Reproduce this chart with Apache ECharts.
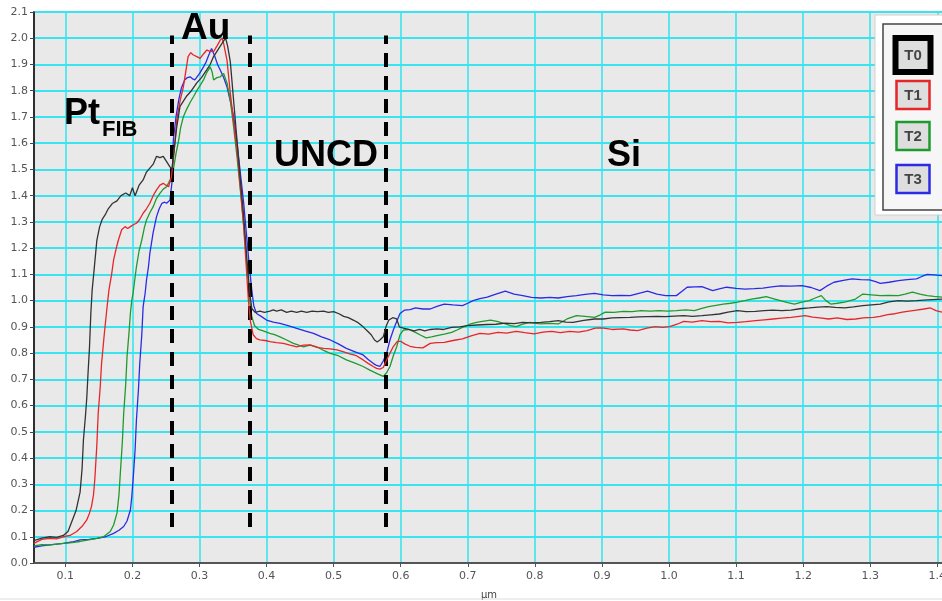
<!DOCTYPE html>
<html>
<head>
<meta charset="utf-8">
<script src="https://cdn.jsdelivr.net/npm/echarts@6/dist/echarts.min.js"></script>
<style>
html,body{margin:0;padding:0;background:#fff;}
#chart{width:942px;height:601px;}
</style>
</head>
<body>
<div id="chart"></div>
<script>
// ---- data ----
const xTicks = [0.1,0.2,0.3,0.4,0.5,0.6,0.7,0.8,0.9,1.0,1.1,1.2,1.3,1.4];
const seriesNames = ['T0','T1','T2','T3'];
const boundaries = [0.259, 0.375, 0.578];
const boundaryRange = [0.137, 2.01];
const regionLabels = ['Pt', 'Au', 'UNCD', 'Si'];

const t0 = [[0.053,0.085],[0.065,0.095],[0.077,0.10],[0.087,0.098],[0.097,0.105],[0.104,0.12],[0.11,0.16],[0.116,0.2],[0.122,0.27],[0.125,0.36],[0.127,0.47],[0.13,0.56],[0.132,0.63],[0.134,0.73],[0.136,0.82],[0.138,0.95],[0.14,1.04],[0.143,1.12],[0.147,1.23],[0.151,1.28],[0.155,1.31],[0.16,1.33],[0.164,1.35],[0.17,1.37],[0.177,1.38],[0.183,1.40],[0.19,1.41],[0.196,1.40],[0.2,1.43],[0.204,1.40],[0.21,1.44],[0.216,1.46],[0.221,1.49],[0.226,1.505],[0.231,1.52],[0.236,1.55],[0.241,1.545],[0.246,1.55],[0.251,1.53],[0.256,1.51],[0.259,1.5],[0.262,1.57],[0.266,1.66],[0.271,1.74],[0.276,1.76],[0.281,1.78],[0.288,1.80],[0.296,1.83],[0.303,1.85],[0.311,1.88],[0.316,1.90],[0.321,1.93],[0.326,1.95],[0.331,1.97],[0.336,1.99],[0.339,2.0],[0.342,1.97],[0.346,1.91],[0.351,1.76],[0.356,1.61],[0.361,1.46],[0.366,1.32],[0.371,1.15],[0.375,1.03],[0.378,0.97],[0.383,0.955],[0.39,0.96],[0.397,0.955],[0.405,0.96],[0.41,0.965],[0.415,0.96],[0.422,0.965],[0.43,0.955],[0.437,0.96],[0.445,0.955],[0.452,0.96],[0.46,0.955],[0.468,0.96],[0.476,0.958],[0.485,0.96],[0.492,0.955],[0.5,0.958],[0.508,0.95],[0.515,0.94],[0.522,0.935],[0.53,0.925],[0.537,0.915],[0.544,0.90],[0.55,0.885],[0.556,0.87],[0.561,0.85],[0.565,0.842],[0.569,0.85],[0.574,0.862],[0.578,0.9],[0.582,0.925],[0.588,0.935],[0.594,0.93],[0.598,0.90],[0.604,0.895],[0.612,0.89],[0.62,0.885],[0.628,0.89],[0.636,0.885],[0.644,0.89],[0.654,0.892],[0.664,0.89],[0.676,0.898],[0.688,0.9],[0.7,0.905],[0.714,0.907],[0.729,0.909],[0.742,0.91],[0.756,0.914],[0.769,0.912],[0.782,0.917],[0.795,0.915],[0.809,0.917],[0.822,0.92],[0.835,0.924],[0.846,0.918],[0.857,0.917],[0.873,0.925],[0.889,0.93],[0.902,0.93],[0.915,0.934],[0.928,0.935],[0.942,0.936],[0.955,0.938],[0.968,0.939],[0.982,0.94],[0.995,0.939],[1.008,0.941],[1.022,0.943],[1.035,0.94],[1.049,0.943],[1.062,0.946],[1.075,0.949],[1.088,0.956],[1.102,0.962],[1.115,0.958],[1.129,0.959],[1.142,0.962],[1.155,0.964],[1.168,0.962],[1.182,0.964],[1.195,0.969],[1.209,0.972],[1.222,0.975],[1.235,0.977],[1.248,0.974],[1.262,0.972],[1.275,0.976],[1.289,0.981],[1.302,0.984],[1.315,0.987],[1.328,0.995],[1.342,1.0],[1.355,0.998],[1.369,1.0],[1.385,1.003],[1.407,1.006]];

const t1 = [[0.053,0.075],[0.065,0.09],[0.077,0.094],[0.087,0.092],[0.097,0.1],[0.107,0.105],[0.117,0.12],[0.125,0.14],[0.132,0.164],[0.136,0.19],[0.139,0.215],[0.142,0.26],[0.144,0.32],[0.147,0.45],[0.149,0.57],[0.152,0.67],[0.154,0.76],[0.158,0.87],[0.162,0.97],[0.165,1.04],[0.169,1.1],[0.172,1.155],[0.176,1.2],[0.179,1.23],[0.184,1.27],[0.189,1.282],[0.193,1.275],[0.197,1.282],[0.202,1.29],[0.206,1.295],[0.211,1.31],[0.216,1.333],[0.221,1.35],[0.226,1.371],[0.231,1.40],[0.236,1.422],[0.241,1.44],[0.246,1.447],[0.25,1.44],[0.254,1.434],[0.258,1.47],[0.261,1.536],[0.264,1.62],[0.266,1.688],[0.271,1.76],[0.276,1.815],[0.28,1.88],[0.283,1.93],[0.287,1.945],[0.291,1.936],[0.296,1.93],[0.301,1.923],[0.306,1.94],[0.311,1.955],[0.316,1.95],[0.321,1.949],[0.326,1.97],[0.331,1.993],[0.334,2.0],[0.336,1.98],[0.341,1.917],[0.346,1.79],[0.351,1.68],[0.356,1.574],[0.361,1.43],[0.366,1.282],[0.37,1.12],[0.373,1.0],[0.376,0.92],[0.38,0.87],[0.385,0.855],[0.39,0.85],[0.398,0.848],[0.405,0.844],[0.415,0.84],[0.425,0.837],[0.435,0.83],[0.445,0.824],[0.455,0.83],[0.465,0.831],[0.475,0.822],[0.485,0.818],[0.495,0.816],[0.505,0.812],[0.515,0.805],[0.524,0.797],[0.534,0.79],[0.544,0.774],[0.552,0.76],[0.559,0.749],[0.564,0.742],[0.569,0.739],[0.574,0.745],[0.579,0.774],[0.584,0.80],[0.589,0.825],[0.595,0.845],[0.6,0.845],[0.606,0.835],[0.614,0.826],[0.622,0.822],[0.633,0.82],[0.644,0.837],[0.654,0.84],[0.665,0.841],[0.678,0.848],[0.692,0.854],[0.705,0.866],[0.718,0.875],[0.731,0.872],[0.745,0.879],[0.758,0.876],[0.772,0.883],[0.785,0.878],[0.799,0.873],[0.812,0.88],[0.825,0.883],[0.838,0.878],[0.852,0.883],[0.865,0.88],[0.878,0.886],[0.89,0.895],[0.9,0.896],[0.915,0.89],[0.932,0.892],[0.942,0.888],[0.953,0.886],[0.967,0.895],[0.98,0.901],[0.99,0.898],[1.001,0.901],[1.012,0.91],[1.022,0.921],[1.035,0.918],[1.049,0.924],[1.062,0.92],[1.075,0.921],[1.088,0.915],[1.102,0.917],[1.115,0.92],[1.129,0.924],[1.142,0.927],[1.155,0.93],[1.168,0.933],[1.182,0.936],[1.203,0.943],[1.214,0.937],[1.225,0.934],[1.238,0.93],[1.251,0.934],[1.265,0.928],[1.278,0.93],[1.29,0.934],[1.305,0.936],[1.315,0.94],[1.326,0.947],[1.337,0.95],[1.348,0.956],[1.358,0.96],[1.369,0.964],[1.38,0.968],[1.39,0.972],[1.398,0.962],[1.407,0.956]];

const t2 = [[0.053,0.065],[0.065,0.07],[0.077,0.069],[0.087,0.072],[0.097,0.075],[0.11,0.078],[0.122,0.082],[0.135,0.088],[0.147,0.094],[0.157,0.1],[0.167,0.12],[0.172,0.145],[0.177,0.19],[0.18,0.26],[0.182,0.342],[0.185,0.46],[0.187,0.57],[0.19,0.68],[0.192,0.786],[0.195,0.88],[0.197,0.951],[0.199,1.0],[0.201,1.028],[0.206,1.129],[0.21,1.19],[0.214,1.231],[0.218,1.28],[0.221,1.307],[0.226,1.335],[0.231,1.358],[0.236,1.39],[0.241,1.409],[0.246,1.425],[0.251,1.434],[0.256,1.46],[0.261,1.498],[0.265,1.56],[0.269,1.612],[0.272,1.66],[0.276,1.701],[0.281,1.73],[0.286,1.755],[0.291,1.777],[0.296,1.8],[0.301,1.82],[0.306,1.841],[0.311,1.87],[0.316,1.891],[0.319,1.87],[0.321,1.841],[0.326,1.85],[0.331,1.853],[0.336,1.866],[0.341,1.83],[0.346,1.764],[0.351,1.66],[0.356,1.548],[0.361,1.42],[0.366,1.282],[0.371,1.13],[0.375,1.0],[0.378,0.94],[0.382,0.905],[0.388,0.89],[0.395,0.885],[0.405,0.875],[0.412,0.87],[0.42,0.862],[0.43,0.85],[0.44,0.837],[0.448,0.83],[0.455,0.824],[0.465,0.83],[0.475,0.824],[0.485,0.81],[0.495,0.799],[0.507,0.79],[0.519,0.774],[0.532,0.762],[0.544,0.749],[0.554,0.735],[0.564,0.723],[0.574,0.711],[0.579,0.725],[0.584,0.749],[0.589,0.79],[0.594,0.824],[0.599,0.87],[0.604,0.888],[0.612,0.89],[0.622,0.879],[0.63,0.868],[0.638,0.858],[0.646,0.862],[0.654,0.867],[0.665,0.872],[0.676,0.879],[0.684,0.888],[0.692,0.898],[0.703,0.91],[0.713,0.917],[0.724,0.922],[0.734,0.926],[0.745,0.92],[0.756,0.911],[0.764,0.905],[0.772,0.901],[0.782,0.91],[0.793,0.917],[0.801,0.913],[0.809,0.911],[0.822,0.913],[0.835,0.911],[0.848,0.93],[0.862,0.943],[0.875,0.94],[0.889,0.936],[0.897,0.945],[0.905,0.956],[0.918,0.955],[0.932,0.959],[0.945,0.958],[0.958,0.962],[0.972,0.96],[0.985,0.962],[0.998,0.96],[1.011,0.962],[1.025,0.965],[1.038,0.962],[1.049,0.97],[1.059,0.977],[1.07,0.982],[1.081,0.987],[1.092,0.99],[1.102,0.994],[1.113,1.0],[1.123,1.006],[1.134,1.01],[1.145,1.015],[1.155,1.008],[1.166,1.0],[1.177,0.992],[1.187,0.987],[1.198,0.994],[1.209,1.0],[1.218,1.01],[1.227,1.019],[1.234,1.0],[1.241,0.987],[1.251,0.99],[1.262,0.994],[1.27,1.0],[1.278,1.006],[1.289,1.025],[1.302,1.022],[1.315,1.019],[1.328,1.02],[1.342,1.019],[1.352,1.025],[1.363,1.032],[1.374,1.025],[1.385,1.019],[1.395,1.016],[1.407,1.013]];

const t3 = [[0.053,0.06],[0.065,0.065],[0.077,0.069],[0.087,0.072],[0.097,0.075],[0.11,0.08],[0.122,0.088],[0.135,0.09],[0.147,0.094],[0.16,0.1],[0.172,0.113],[0.18,0.125],[0.187,0.139],[0.192,0.16],[0.197,0.202],[0.199,0.25],[0.201,0.316],[0.204,0.43],[0.206,0.545],[0.209,0.66],[0.211,0.761],[0.214,0.87],[0.216,0.977],[0.219,1.028],[0.221,1.078],[0.224,1.13],[0.226,1.18],[0.231,1.26],[0.236,1.32],[0.24,1.35],[0.244,1.371],[0.248,1.375],[0.251,1.371],[0.256,1.383],[0.259,1.45],[0.261,1.612],[0.265,1.7],[0.269,1.764],[0.273,1.81],[0.278,1.841],[0.282,1.85],[0.286,1.853],[0.29,1.845],[0.293,1.841],[0.3,1.865],[0.306,1.891],[0.31,1.91],[0.313,1.93],[0.318,1.961],[0.323,1.93],[0.327,1.9],[0.331,1.879],[0.336,1.85],[0.341,1.815],[0.346,1.76],[0.351,1.701],[0.356,1.6],[0.361,1.485],[0.366,1.37],[0.37,1.256],[0.374,1.14],[0.378,1.04],[0.381,0.98],[0.385,0.951],[0.392,0.94],[0.4,0.926],[0.41,0.918],[0.42,0.913],[0.432,0.905],[0.445,0.894],[0.457,0.885],[0.47,0.875],[0.482,0.862],[0.495,0.85],[0.507,0.835],[0.519,0.818],[0.532,0.805],[0.544,0.793],[0.552,0.775],[0.559,0.761],[0.564,0.753],[0.569,0.749],[0.574,0.77],[0.579,0.799],[0.584,0.85],[0.589,0.888],[0.594,0.92],[0.599,0.951],[0.606,0.964],[0.614,0.966],[0.622,0.972],[0.633,0.968],[0.644,0.968],[0.654,0.978],[0.665,0.987],[0.678,0.984],[0.692,0.981],[0.7,0.99],[0.708,1.0],[0.718,1.008],[0.729,1.013],[0.742,1.025],[0.756,1.036],[0.769,1.025],[0.782,1.019],[0.795,1.012],[0.809,1.01],[0.822,1.012],[0.835,1.01],[0.848,1.015],[0.862,1.019],[0.875,1.024],[0.889,1.028],[0.902,1.022],[0.915,1.019],[0.928,1.02],[0.942,1.019],[0.955,1.028],[0.968,1.036],[0.982,1.025],[0.995,1.019],[1.011,1.019],[1.019,1.035],[1.027,1.051],[1.038,1.052],[1.049,1.053],[1.058,1.045],[1.065,1.038],[1.075,1.045],[1.086,1.051],[1.1,1.047],[1.113,1.044],[1.127,1.046],[1.14,1.048],[1.153,1.052],[1.166,1.056],[1.182,1.055],[1.198,1.057],[1.212,1.05],[1.225,1.038],[1.235,1.055],[1.246,1.07],[1.26,1.077],[1.273,1.083],[1.286,1.08],[1.299,1.079],[1.308,1.072],[1.315,1.066],[1.328,1.07],[1.342,1.076],[1.355,1.08],[1.369,1.083],[1.377,1.092],[1.385,1.1],[1.395,1.098],[1.407,1.095]];

// ---- styling ----
const colors = ['#333333', '#e5262a', '#1f9a2e', '#2b2be6'];
const seriesData = [t0, t1, t2, t3];
const gridColor = '#3ae4ee';
const boldFont = '"Liberation Sans", Arial, sans-serif';

const chart = echarts.init(document.getElementById('chart'), null, {renderer: 'canvas'});

const series = seriesData.map((d, i) => ({
  name: seriesNames[i],
  type: 'line',
  data: d,
  showSymbol: false,
  symbol: 'none',
  lineStyle: {color: colors[i], width: 1.3},
  itemStyle: {color: colors[i]},
  z: 3 + (3 - i)
}));

series.push({
  name: 'boundaries',
  type: 'line',
  data: [],
  silent: true,
  markLine: {
    silent: true,
    symbol: ['none', 'none'],
    label: {show: false},
    lineStyle: {color: '#000', width: 4, type: [14, 9]},
    data: boundaries.map(b => [{coord: [b, boundaryRange[0]]}, {coord: [b, boundaryRange[1]]}])
  },
  z: 10
});

// legend boxes
const legendCenters = [55, 95, 136, 179];
const legendGraphics = [
  {type: 'rect', shape: {x: 875, y: 15, width: 80, height: 200}, style: {fill: '#ffffff', stroke: '#d0d0d0', lineWidth: 1}, z: 20},
  {type: 'rect', shape: {x: 883, y: 24, width: 70, height: 186}, style: {fill: '#f6f6f6', stroke: '#444', lineWidth: 1.5}, z: 21}
];
seriesNames.forEach((n, i) => {
  const cy = legendCenters[i];
  const thick = i === 0;
  const w = thick ? 35 : 33, h = thick ? 34 : 28;
  legendGraphics.push({
    type: 'rect',
    shape: {x: 913 - w / 2, y: cy - h / 2, width: w, height: h},
    style: {fill: '#dedede', stroke: colors[i] === '#333333' ? '#000' : colors[i], lineWidth: thick ? 6 : 2.5},
    z: 22
  });
  legendGraphics.push({
    type: 'text',
    x: 913, y: cy + 1,
    style: {text: n, fill: '#444', font: 'bold 15px ' + boldFont, align: 'center', verticalAlign: 'middle'},
    z: 23
  });
});

const annotation = (text, x, y, size) => ({
  type: 'text', x: x, y: y,
  style: {text: text, fill: '#000', font: 'bold ' + size + 'px ' + boldFont, align: 'left', verticalAlign: 'middle'},
  z: 15
});

const option = {
  animation: false,
  backgroundColor: '#ffffff',
  grid: {
    left: 34, right: -2, top: 12, bottom: 38,
    outerBoundsMode: 'none',
    containLabel: false,
    show: true, backgroundColor: '#e9e9e9', borderColor: '#666', borderWidth: 1.5
  },
  xAxis: {
    type: 'value',
    min: 0.0533, max: 1.41,
    name: 'µm',
    nameLocation: 'middle',
    nameGap: 27,
    nameTextStyle: {color: '#444', fontSize: 10, fontFamily: 'DejaVu Sans'},
    axisLine: {show: true, onZero: false, lineStyle: {color: '#555', width: 2}},
    axisTick: {show: true, length: 4, customValues: xTicks, lineStyle: {color: '#555'}},
    axisLabel: {
      customValues: xTicks, color: '#555', fontSize: 11, margin: 8,
      fontFamily: 'DejaVu Sans', hideOverlap: false,
      formatter: v => Number(v).toFixed(1)
    },
    splitLine: {show: true, lineStyle: {color: gridColor, width: 1.6}}
  },
  yAxis: {
    type: 'value',
    min: 0, max: 2.1, interval: 0.1,
    axisLine: {show: true, lineStyle: {color: '#111', width: 1.5}},
    axisTick: {show: true, length: 4, lineStyle: {color: '#444'}},
    axisLabel: {color: '#555', fontSize: 11, margin: 6, fontFamily: 'DejaVu Sans', formatter: v => Number(v).toFixed(1)},
    splitLine: {show: true, lineStyle: {color: gridColor, width: 2}}
  },
  series: series,
  graphic: [
    annotation(regionLabels[0], 64, 114, 36),
    annotation('FIB', 102, 130, 22),
    annotation(regionLabels[1], 181, 29, 37),
    annotation(regionLabels[2], 274, 156, 36),
    annotation(regionLabels[3], 607, 156, 36),
    {type: 'line', shape: {x1: 0, y1: 599, x2: 942, y2: 599}, style: {stroke: '#ddd', lineWidth: 1}, z: 1}
  ].concat(legendGraphics)
};

chart.setOption(option);
</script>
</body>
</html>
